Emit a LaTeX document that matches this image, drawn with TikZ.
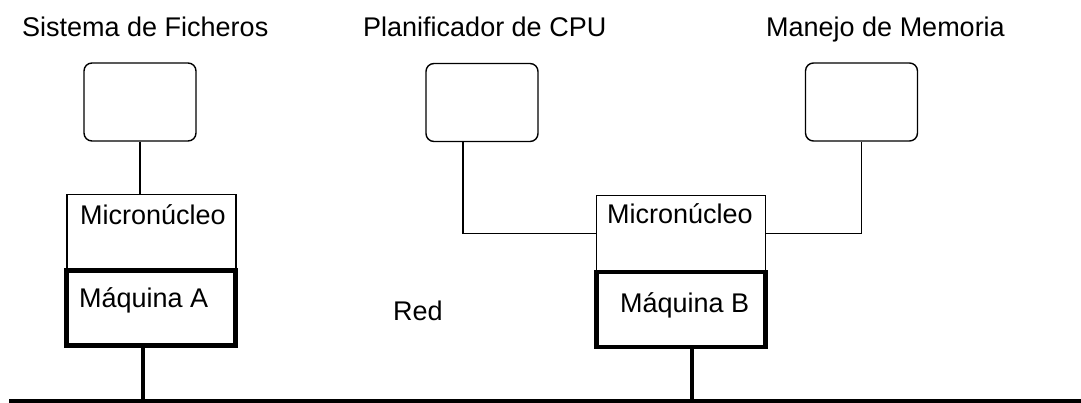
\documentclass[tikz,border=0pt]{standalone}
\usepackage{fontspec}
\setmainfont{Liberation Sans}
\begin{document}
\begin{tikzpicture}[x=1pt,y=-1pt,
  txt/.style={anchor=base west,inner sep=0pt,font=\fontsize{27}{31}\selectfont},
  rbox/.style={draw,line width=1.4pt,rounded corners=8pt,minimum width=112pt,minimum height=78pt,inner sep=0pt},
  kbox/.style={draw,line width=1.3pt,minimum width=169pt,minimum height=76pt,inner sep=0pt},
  mbox/.style={draw,line width=4.2pt,minimum width=169pt,minimum height=75pt,inner sep=0pt},
  thin/.style={line width=1.3pt},
  thick/.style={line width=4.2pt}]
\useasboundingbox (0,0) rectangle (1081,403);
% headers
\node[txt] (h1) at (22,37) {Sistema de Ficheros};
\node[txt] (h2) at (363,37) {Planificador de CPU};
\node[txt] (h3) at (766,37) {Manejo de Memoria};
% rounded boxes
\node[rbox] (b1) at (140,102) {};
\node[rbox] (b2) at (482,102.5) {};
\node[rbox] (b3) at (861.5,102) {};
% micronucleo boxes
\node[kbox] (mA) at (151.5,232.5) {};
\node[kbox] (mB) at (681,233.5) {};
% maquina boxes
\node[mbox] (qA) at (151,308) {};
\node[mbox] (qB) at (681,309.5) {};
% texts
\node[txt] (tmA) at (80,225) {Micronúcleo};
\node[txt] (tqA) at (79,307) {Máquina A};
\node[txt] (tmB) at (607,224) {Micronúcleo};
\node[txt] (tqB) at (620,312) {Máquina B};
\node[txt] (red) at (393,320) {Red};
% network line
\coordinate (netL) at (9,401);
\coordinate (netR) at (1081,401);
\draw[thick] (netL) -- (netR);
% connectors
\draw[thin] (b1.south) -- (b1.south |- mA.north);
\draw[thin] ([xshift=-19pt]b2.south) |- (mB.west);
\draw[thin] (mB.east) -| (b3.south);
\draw[thick] (143,0 |- qA.south) -- (143,0 |- netL);
\draw[thick] (692,0 |- qB.south) -- (692,0 |- netL);
\end{tikzpicture}
\end{document}
